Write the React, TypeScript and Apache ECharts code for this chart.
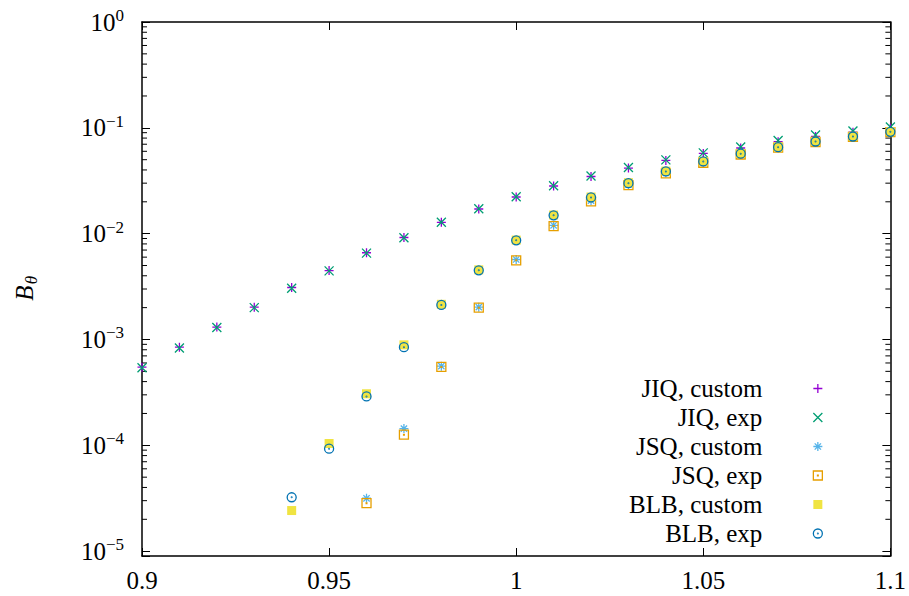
import React, { useEffect, useRef } from "react";
import * as echarts from "echarts";

const FONT = "Liberation Serif";

const xAll = [0.9, 0.91, 0.92, 0.93, 0.94, 0.95, 0.96, 0.97, 0.98, 0.99, 1.0, 1.01, 1.02, 1.03, 1.04, 1.05, 1.06, 1.07, 1.08, 1.09, 1.1];
const xFrom094 = [0.94, 0.95, 0.96, 0.97, 0.98, 0.99, 1.0, 1.01, 1.02, 1.03, 1.04, 1.05, 1.06, 1.07, 1.08, 1.09, 1.1];
const xFrom096 = [0.96, 0.97, 0.98, 0.99, 1.0, 1.01, 1.02, 1.03, 1.04, 1.05, 1.06, 1.07, 1.08, 1.09, 1.1];

const jiqCustom = [5.48e-4, 8.46e-4, 1.31e-3, 2.02e-3, 3.1e-3, 4.48e-3, 6.6e-3, 9.2e-3, 1.28e-2, 1.71e-2, 2.22e-2, 2.82e-2, 3.47e-2, 4.17e-2, 4.92e-2, 5.73e-2, 6.45e-2, 7.4e-2, 8.3e-2, 9.1e-2, 0.099];
const jiqExp = [5.4e-4, 8.3e-4, 1.3e-3, 2.0e-3, 3.05e-3, 4.45e-3, 6.55e-3, 9.15e-3, 1.28e-2, 1.72e-2, 2.23e-2, 2.84e-2, 3.5e-2, 4.22e-2, 4.98e-2, 5.8e-2, 6.6e-2, 7.6e-2, 8.55e-2, 9.35e-2, 0.102];
const jsqCustom = [3.16e-5, 1.44e-4, 5.6e-4, 2.02e-3, 5.7e-3, 1.2e-2, 2.05e-2, 2.9e-2, 3.75e-2, 4.7e-2, 5.6e-2, 6.5e-2, 7.35e-2, 8.2e-2, 9.1e-2];
const jsqExp = [2.84e-5, 1.26e-4, 5.5e-4, 2.0e-3, 5.6e-3, 1.18e-2, 2.02e-2, 2.88e-2, 3.72e-2, 4.68e-2, 5.6e-2, 6.5e-2, 7.35e-2, 8.2e-2, 9.1e-2];
const blbCustom = [2.42e-5, 1.04e-4, 3.07e-4, 8.9e-4, 2.15e-3, 4.55e-3, 8.7e-3, 1.5e-2, 2.22e-2, 3.03e-2, 3.9e-2, 4.82e-2, 5.72e-2, 6.6e-2, 7.45e-2, 8.3e-2, 9.2e-2];
const blbExp = [3.23e-5, 9.3e-5, 2.9e-4, 8.46e-4, 2.12e-3, 4.5e-3, 8.65e-3, 1.49e-2, 2.2e-2, 3.0e-2, 3.87e-2, 4.81e-2, 5.7e-2, 6.57e-2, 7.43e-2, 8.28e-2, 9.17e-2];

const seriesNames = ["JIQ, custom", "JIQ, exp", "JSQ, custom", "JSQ, exp", "BLB, custom", "BLB, exp"];
const seriesColors = ["#9400d3", "#009e73", "#56b4e9", "#e69f00", "#f0e442", "#0072b2"];

const minorTickValues = [
  2e-5, 3e-5, 4e-5, 5e-5, 6e-5, 7e-5, 8e-5, 9e-5,
  2e-4, 3e-4, 4e-4, 5e-4, 6e-4, 7e-4, 8e-4, 9e-4,
  2e-3, 3e-3, 4e-3, 5e-3, 6e-3, 7e-3, 8e-3, 9e-3,
  2e-2, 3e-2, 4e-2, 5e-2, 6e-2, 7e-2, 8e-2, 9e-2,
  2e-1, 3e-1, 4e-1, 5e-1, 6e-1, 7e-1, 8e-1, 9e-1,
];

const X_MIN = 0.9;
const X_MAX = 1.1;
const Y_MIN = 9e-6;
const Y_MAX = 1;

const PLUS = "path://M5,0L5,10M0,5L10,5";
const CROSS = "path://M0,0L10,10M10,0L0,10";
const STAR = "path://M5,0L5,10M0,5L10,5M1.5,1.5L8.5,8.5M8.5,1.5L1.5,8.5";
const BOXDOT = "path://M0,0L10,0L10,10L0,10Z M4.6,4.6L5.4,4.6L5.4,5.4L4.6,5.4Z";
const CIRCDOT = "path://M0,5A5,5 0 1,1 10,5A5,5 0 1,1 0,5Z M4.6,5A0.4,0.4 0 1,1 5.4,5A0.4,0.4 0 1,1 4.6,5Z";

function pairs(xs: number[], ys: number[]) {
  return xs.map((x, i) => [x, ys[i]]);
}

export default function App() {
  const ref = useRef<HTMLDivElement>(null);

  useEffect(() => {
    if (!ref.current) return;
    const chart = echarts.init(ref.current, undefined, { renderer: "svg" });

    const defs = [
      { xs: xAll, ys: jiqCustom, symbol: PLUS, filled: false },
      { xs: xAll, ys: jiqExp, symbol: CROSS, filled: false },
      { xs: xFrom096, ys: jsqCustom, symbol: STAR, filled: false },
      { xs: xFrom096, ys: jsqExp, symbol: BOXDOT, filled: false },
      { xs: xFrom094, ys: blbCustom, symbol: "rect", filled: true },
      { xs: xFrom094, ys: blbExp, symbol: CIRCDOT, filled: false },
    ];

    const styleFor = (i: number) =>
      defs[i].filled
        ? { color: seriesColors[i], borderWidth: 0, opacity: 1 }
        : { color: "rgba(0,0,0,0)", borderColor: seriesColors[i], borderWidth: 1.3, opacity: 1 };

    const scatterSeries = defs.map((d, i) => ({
      type: "scatter",
      name: seriesNames[i],
      data: pairs(d.xs, d.ys),
      symbol: d.symbol,
      symbolSize: 9,
      itemStyle: styleFor(i),
      emphasis: { disabled: true },
      silent: true,
      z: 3,
    }));

    const minorTicks = {
      type: "custom",
      name: "minorTicks",
      silent: true,
      z: 1,
      data: minorTickValues.map((v) => [X_MIN, v]),
      renderItem: (params: any, api: any) => {
        const v = api.value(1);
        const l = api.coord([X_MIN, v]);
        const r = api.coord([X_MAX, v]);
        return {
          type: "group",
          children: [
            { type: "line", shape: { x1: l[0], y1: l[1], x2: l[0] + 5, y2: l[1] }, style: { stroke: "#000", lineWidth: 1 } },
            { type: "line", shape: { x1: r[0] - 5, y1: r[1], x2: r[0], y2: r[1] }, style: { stroke: "#000", lineWidth: 1 } },
          ],
        };
      },
    };

    const yLabelFormatter = (v: number) => {
      const lg = Math.log10(v);
      const e = Math.round(lg);
      if (Math.abs(lg - e) > 1e-6) return "";
      const exp = e < 0 ? "\u2212" + -e : String(e);
      return "{b|10}{s|" + exp + "}";
    };

    const axisLineStyle = { color: "#000", width: 1.5 };

    chart.setOption({
      animation: false,
      backgroundColor: "#fff",
      grid: { left: 142, right: 16, top: 22, bottom: 40, containLabel: false },
      xAxis: [
        {
          type: "value",
          position: "bottom",
          min: X_MIN,
          max: X_MAX,
          interval: 0.05,
          axisLine: { show: true, onZero: false, lineStyle: axisLineStyle },
          axisTick: { show: true, inside: true, length: 8, lineStyle: { color: "#000", width: 1 } },
          axisLabel: { show: true, margin: 12, fontSize: 25, fontFamily: FONT, color: "#000" },
          splitLine: { show: false },
        },
        {
          type: "value",
          position: "top",
          min: X_MIN,
          max: X_MAX,
          interval: 0.05,
          axisLine: { show: true, onZero: false, lineStyle: axisLineStyle },
          axisTick: { show: true, inside: true, length: 8, lineStyle: { color: "#000", width: 1 } },
          axisLabel: { show: false },
          splitLine: { show: false },
        },
      ],
      yAxis: [
        {
          type: "log",
          logBase: 10,
          position: "left",
          min: Y_MIN,
          max: Y_MAX,
          axisLine: { show: true, onZero: false, lineStyle: axisLineStyle },
          axisTick: { show: true, inside: true, length: 8, lineStyle: { color: "#000", width: 1 } },
          axisLabel: {
            show: true,
            interval: 0,
            margin: 18,
            fontSize: 25,
            formatter: yLabelFormatter,
            rich: {
              b: { fontSize: 25, fontFamily: FONT, color: "#000", lineHeight: 30 },
              s: { fontSize: 17, fontFamily: FONT, color: "#000", verticalAlign: "top", lineHeight: 17 },
            },
          },
          splitLine: { show: false },
          minorTick: { show: false },
        },
        {
          type: "log",
          logBase: 10,
          position: "right",
          min: Y_MIN,
          max: Y_MAX,
          axisLine: { show: true, onZero: false, lineStyle: axisLineStyle },
          axisTick: { show: true, inside: true, length: 8, lineStyle: { color: "#000", width: 1 } },
          axisLabel: { show: false },
          splitLine: { show: false },
        },
      ],
      legend: {
        show: true,
        orient: "vertical",
        align: "right",
        right: 86,
        top: 374,
        padding: 0,
        itemGap: 0,
        itemWidth: 9,
        itemHeight: 9,
        selectedMode: false,
        textStyle: { fontFamily: FONT, fontSize: 25, color: "#000", lineHeight: 29, padding: [0, 46, 0, 0] },
        data: seriesNames.map((n, i) => ({ name: n, icon: defs[i].symbol, itemStyle: styleFor(i) })),
      },
      graphic: [
        {
          type: "text",
          x: 24,
          y: 293,
          rotation: Math.PI / 2,
          style: { text: "B", fontFamily: FONT, fontStyle: "italic", fontSize: 25, fill: "#000", align: "center", verticalAlign: "middle" },
        },
        {
          type: "text",
          x: 31,
          y: 280,
          rotation: Math.PI / 2,
          style: { text: "θ", fontFamily: FONT, fontStyle: "italic", fontSize: 17, fill: "#000", align: "center", verticalAlign: "middle" },
        },
      ],
      series: [minorTicks, ...scatterSeries],
    });

    return () => chart.dispose();
  }, []);

  return <div ref={ref} style={{ position: "absolute", left: 0, top: 0, width: 909, height: 596 }} />;
}
